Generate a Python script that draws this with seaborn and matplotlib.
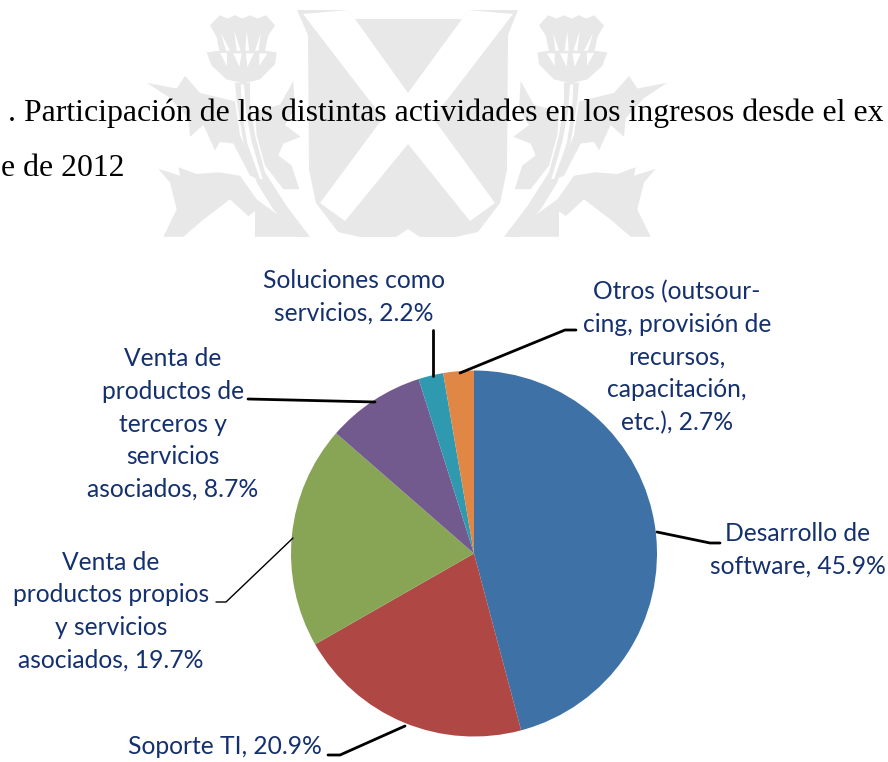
import matplotlib
matplotlib.use("Agg")
import matplotlib.pyplot as plt
from matplotlib.patches import Polygon
import seaborn as sns

# valores de la torta, sentido horario desde arriba
actividades = ["Desarrollo de\nsoftware, 45.9%", "Soporte TI, 20.9%",
               "Venta de\nproductos propios\ny servicios\nasociados, 19.7%",
               "Venta de\nproductos de\nterceros y\nservicios\nasociados, 8.7%",
               "Soluciones como\nservicios, 2.2%",
               "Otros (outsour-\ncing, provisión de\nrecursos,\ncapacitación,\netc.), 2.7%"]
participacion = [45.9, 20.9, 19.7, 8.7, 2.2, 2.7]
colores = ["#3E71A5", "#AF4745", "#87A555", "#735A8E", "#2F9AAF", "#E08746"]

# centro de cada etiqueta en pixeles
pos_etiquetas = [(798, 550), (225, 747), (111, 611), (173, 424), (354, 297), (677, 357)]

# lineas guia en pixeles (x, y, ancho)
guias = [
    ([657, 710, 720], [532, 543, 543], 2.0),
    ([328, 340, 405], [755, 755, 726], 2.0),
    ([293, 226, 216], [538, 602, 602], 1.0),
    ([248, 375], [399, 402], 2.0),
    ([433, 433], [330, 376], 2.0),
    ([460, 565, 576], [373, 330, 330], 2.0),
]

GRIS = "#E8E8E8"

# marca de agua, cardo izquierdo (coordenadas del recorte ampliado)
cardo_gris = [
    [(210, 75), (240, 45), (262, 55), (285, 45), (308, 55), (330, 45), (352, 55), (378, 45), (405, 75), (385, 105),
     (375, 150), (410, 155), (405, 190), (360, 235), (310, 247), (260, 235), (215, 195), (200, 155), (238, 150), (230, 110)],
    [(285, 245), (330, 245), (330, 300), (345, 400), (375, 510), (440, 610), (510, 701), (470, 701), (400, 620),
     (350, 540), (310, 420), (290, 300)],
    [(20, 245), (110, 262), (135, 225), (180, 275), (285, 300), (300, 400), (355, 530), (330, 520), (280, 425),
     (240, 420), (225, 445), (190, 370), (150, 405), (145, 350), (90, 290)],
    [(345, 330), (420, 310), (460, 240), (465, 320), (435, 370), (482, 405), (430, 425), (415, 460), (455, 490),
     (478, 560), (430, 560), (375, 490), (350, 400)],
    [(55, 500), (120, 520), (115, 495), (170, 515), (235, 510), (300, 520), (350, 590), (420, 640), (500, 701),
     (345, 701), (345, 625), (325, 640), (270, 590), (190, 650), (130, 701), (70, 701), (110, 620), (90, 540)],
]
cardo_blanco = [
    [(243, 98), (258, 150), (270, 150)], [(283, 92), (290, 150), (302, 150)], [(320, 92), (316, 150), (328, 150)],
    [(362, 98), (345, 150), (356, 150)], [(240, 158), (262, 158), (262, 195)], [(280, 158), (305, 158), (298, 198)],
    [(318, 158), (342, 158), (322, 198)], [(358, 158), (382, 158), (358, 195)],
    [(302, 250), (312, 250), (318, 330), (335, 420), (368, 530), (360, 530), (322, 425), (306, 330)],
]

# escudo y cruz en pixeles
escudo = [(297, 10), (348, 10), (355, 19), (462, 19), (468, 10), (518, 10), (508, 35), (507, 170), (500, 203), (478, 232),
          (455, 237), (420, 237), (408, 229), (396, 237), (360, 237), (338, 232), (316, 203), (309, 170), (308, 35)]
cruz = [(303, 14), (348, 10), (355, 19), (408, 93), (462, 19), (468, 10), (513, 14), (433, 118), (495, 203), (470, 221),
        (408, 144), (345, 221), (320, 203), (383, 118)]


def Y(y):
    return 762 - y


def marca_agua(ax):
    ax.add_patch(Polygon([(x, Y(y)) for x, y in escudo], fc=GRIS, ec="none", zorder=0))
    ax.add_patch(Polygon([(x, Y(y)) for x, y in cruz], fc="white", ec="none", zorder=0.1))
    for esp in (False, True):
        for pts, col, z in [(p, GRIS, 0) for p in cardo_gris] + [(p, "white", 0.1) for p in cardo_blanco]:
            xy = []
            for zx, zy in pts:
                x = zx / 3 + 140
                xy.append((814 - x if esp else x, Y(zy / 2.96)))
            ax.add_patch(Polygon(xy, fc=col, ec="none", zorder=z))


sns.set_theme(style="white")
plt.rcParams["font.family"] = ["Lato", "DejaVu Sans"]

fig = plt.figure(figsize=(8.88, 7.62), dpi=100)
ax = fig.add_axes([0, 0, 1, 1])
marca_agua(ax)

wedges, _ = ax.pie(participacion, colors=sns.color_palette(colores), startangle=90, counterclock=False,
                   center=(474, Y(553.5)), radius=183, frame=True, wedgeprops={"linewidth": 0})

for (xs, ys, lw) in guias:
    sns.lineplot(x=xs, y=[Y(v) for v in ys], ax=ax, color="black", linewidth=lw, sort=False,
                 estimator=None, legend=False)
ax.set_xlim(0, 888)
ax.set_ylim(0, 762)
ax.set_aspect("equal")
ax.axis("off")

for txt, (x, y) in zip(actividades, pos_etiquetas):
    ax.text(x, Y(y), txt, ha="center", va="center", fontsize=17.7, color="#14306E", linespacing=1.5)

ax.text(8, Y(113), ". Participación de las distintas actividades en los ingresos desde el ex",
        family="Liberation Serif", fontsize=22.9, color="black", va="center")
ax.text(1, Y(168), "e de 2012", family="Liberation Serif", fontsize=22.9, color="black", va="center")

fig.savefig("out.png", dpi=100)
